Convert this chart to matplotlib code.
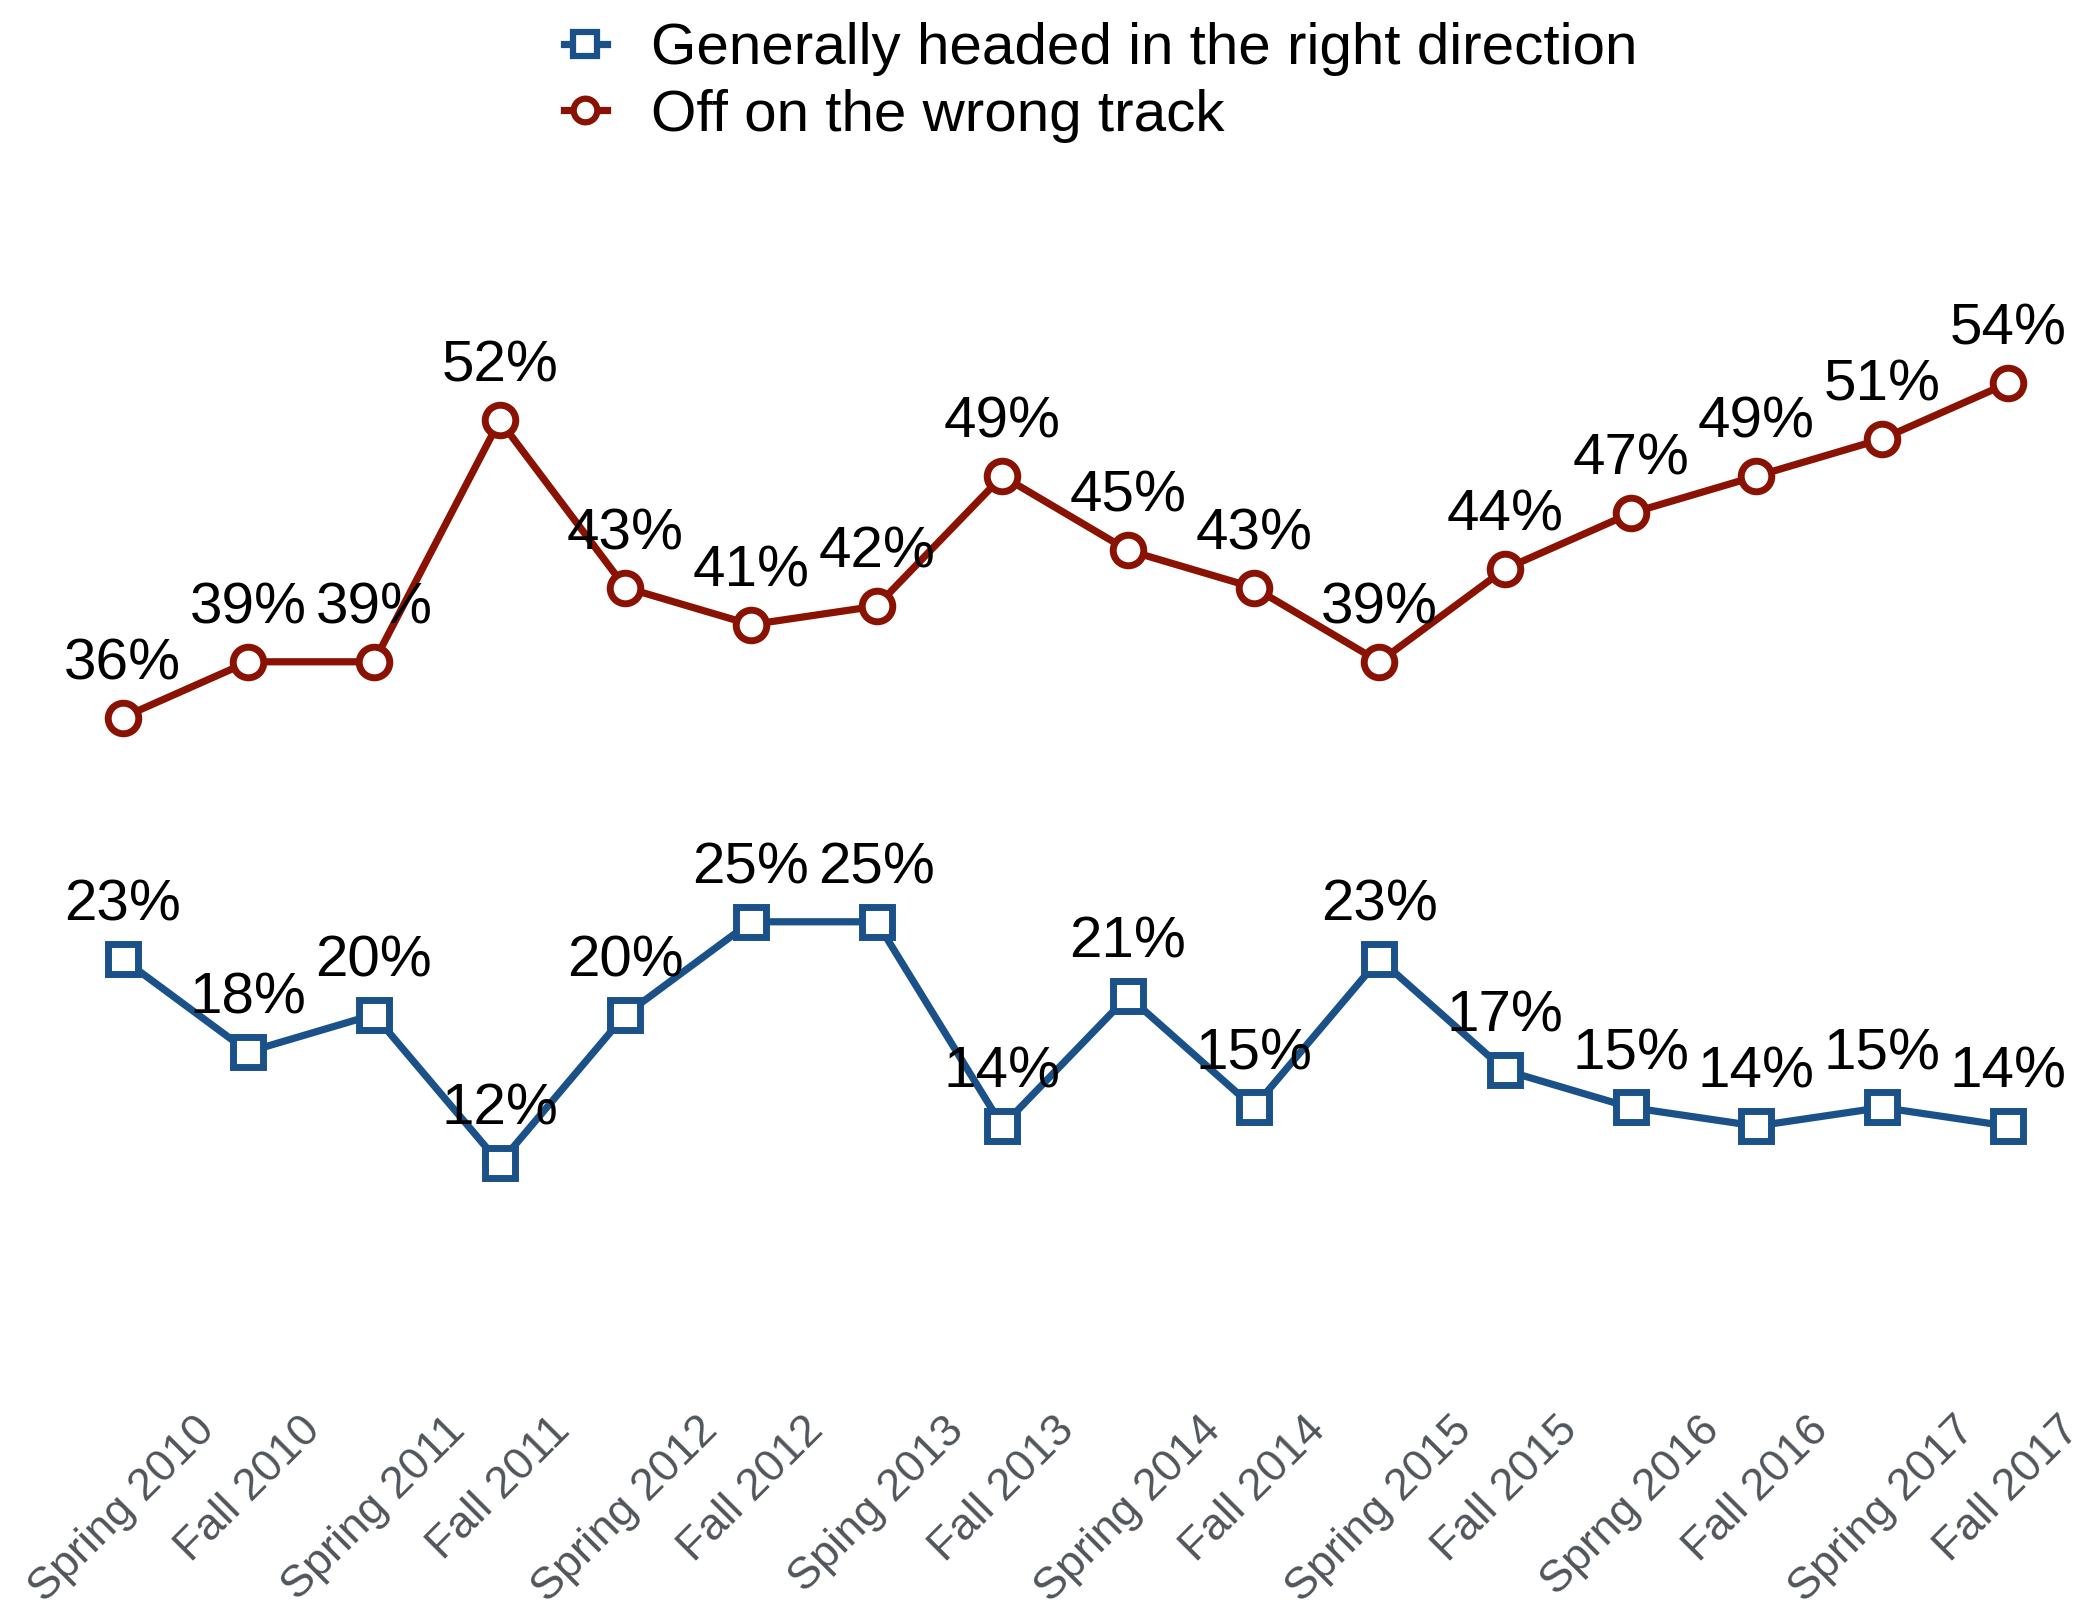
import matplotlib
matplotlib.use("Agg")
import matplotlib.pyplot as plt
from matplotlib.lines import Line2D

plt.rcParams["font.family"] = ["Liberation Sans", "DejaVu Sans"]

periods = ["Spring 2010", "Fall 2010", "Spring 2011", "Fall 2011",
           "Spring 2012", "Fall 2012", "Sping 2013", "Fall 2013",
           "Spring 2014", "Fall 2014", "Spring 2015", "Fall 2015",
           "Sprng 2016", "Fall 2016", "Spring 2017", "Fall 2017"]
right_direction = [23, 18, 20, 12, 20, 25, 25, 14, 21, 15, 23, 17, 15, 14, 15, 14]
wrong_track = [36, 39, 39, 52, 43, 41, 42, 49, 45, 43, 39, 44, 47, 49, 51, 54]

blue = "#1b5189"
red = "#8a1203"
label_size = 42
line_kw = dict(lw=5.2, mfc="white", mew=5.0)

fig = plt.figure(figsize=(20.89, 16.16), dpi=100)
ax = fig.add_axes([0.0226, 0.1423, 0.9746, 0.6895])

x = list(range(len(periods)))
ax.plot(x, right_direction, color=blue, marker="s", ms=21, mec=blue, zorder=3, **line_kw)
ax.plot(x, wrong_track, color=red, marker="o", ms=22, mec=red, zorder=3, **line_kw)

for xi, v in zip(x, right_direction):
    ax.annotate(f"{v}%", (xi, v), xytext=(0, 19), textcoords="offset points",
                ha="center", va="bottom", fontsize=label_size, color="black")
for xi, v in zip(x, wrong_track):
    ax.annotate(f"{v}%", (xi, v), xytext=(0, 19), textcoords="offset points",
                ha="center", va="bottom", fontsize=label_size, color="black")

ax.set_xlim(-0.6, 15.6)
ax.set_ylim(0, 60)
ax.set_xticks(x)
ax.set_xticklabels(periods, rotation=45, ha="center", va="top",
                   fontsize=32.5, color="#50555c")
ax.tick_params(axis="x", length=0, pad=17)
ax.set_yticks([])
for s in ax.spines.values():
    s.set_visible(False)

handles = [
    Line2D([], [], color=blue, marker="s", ms=17, mec=blue, lw=5.2, mfc="white", mew=4.5),
    Line2D([], [], color=red, marker="o", ms=17, mec=red, lw=5.2, mfc="white", mew=4.5),
]
fig.legend(handles, ["Generally headed in the right direction", "Off on the wrong track"],
           loc="upper left", bbox_to_anchor=(0.253, 1.008), frameon=False,
           fontsize=label_size, handlelength=0.75, handletextpad=0.75,
           labelspacing=0.22, borderpad=0.1)

fig.savefig("out.png", dpi=100)
